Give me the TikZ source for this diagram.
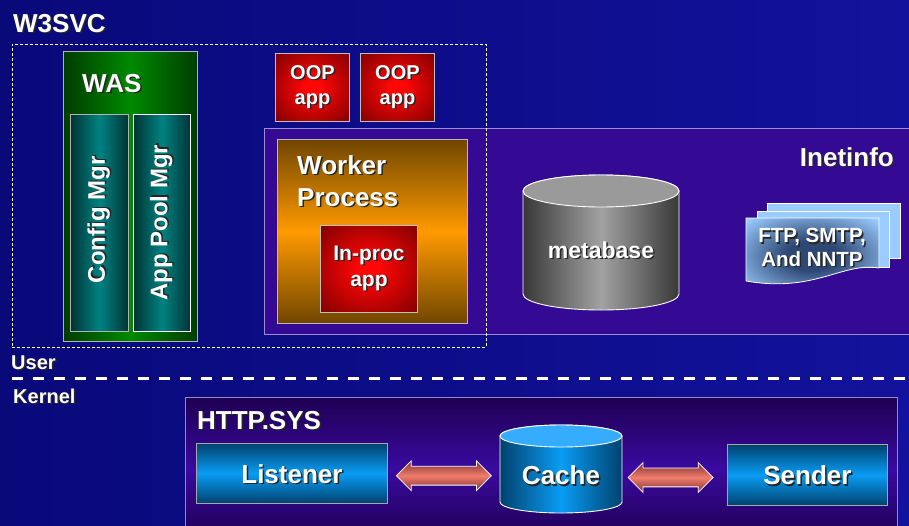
\documentclass[tikz,border=0pt]{standalone}
\usepackage{fontspec}
\setmainfont{Liberation Sans}
\usetikzlibrary{shapes.arrows,calc}
\definecolor{bgL}{HTML}{09097A}
\definecolor{bgR}{HTML}{12129C}
\definecolor{inetC}{HTML}{340A94}
\definecolor{inetB}{HTML}{9C8CD0}
\definecolor{httpD}{HTML}{1E0052}
\definecolor{httpM}{HTML}{3A0AA0}
\definecolor{grnD}{HTML}{003C00}
\definecolor{grnM}{HTML}{008A00}
\definecolor{tealD}{HTML}{003434}
\definecolor{tealM}{HTML}{008282}
\definecolor{redI}{HTML}{FF0606}
\definecolor{redO}{HTML}{760000}
\definecolor{orgD}{HTML}{704600}
\definecolor{orgM}{HTML}{FF9A00}
\definecolor{gryD}{HTML}{383838}
\definecolor{gryM}{HTML}{A2A2A2}
\definecolor{gryT}{HTML}{9A9A9A}
\definecolor{bluD}{HTML}{00426E}
\definecolor{bluM}{HTML}{0A9CF4}
\definecolor{bluT}{HTML}{36ACFF}
\definecolor{pageC}{HTML}{9ACCFF}
\definecolor{pageI}{HTML}{2E4874}
\definecolor{arrD}{HTML}{7A3434}
\definecolor{arrM}{HTML}{F27C6C}
\pgfdeclareradialshading{redglow}{\pgfpoint{0bp}{0bp}}{color(0bp)=(redI); color(5bp)=(redI); color(38bp)=(redO); color(50bp)=(redO)}
\pgfdeclareradialshading{pageglow}{\pgfpoint{0bp}{0bp}}{color(0bp)=(pageI); color(10bp)=(pageI); color(34bp)=(pageC); color(50bp)=(pageC)}
\newcommand\shd[1]{\leavevmode\rlap{\kern1.5pt\raisebox{-1.5pt}{\textcolor{black!85}{#1}}}#1}
\tikzset{
  txt/.style={text=white, inner sep=0pt, font=\bfseries\fontsize{25}{30}\selectfont},
  fs/.style={font=\bfseries\fontsize{#1}{30}\selectfont},
  boxframe/.style={draw=#1, line width=0.9pt, inner sep=0pt, anchor=north west},
  redbox/.style={boxframe=gray!50, shading=redglow},
  tealbar/.style={boxframe=gray!60, left color=tealD, right color=tealD, middle color=tealM},
  bluebox/.style={boxframe=gray!70, top color=bluD, bottom color=bluD, middle color=bluM},
  dblarrow/.style={shape=double arrow, draw=white!85, line width=0.8pt, inner xsep=0pt, inner ysep=9pt,
    double arrow head extend=5.5pt, top color=arrD, bottom color=arrD, middle color=arrM}
}
\begin{document}
\begin{tikzpicture}[x=1pt,y=-1pt]
\useasboundingbox (0,0) rectangle (909,525);
\clip (0,0) rectangle (909,525);
% background
\shade[left color=bgL, right color=bgR] (0,0) rectangle (909,525);

% W3SVC label
\node[txt, fs=26, anchor=base west] (w3lbl) at (13,32) {\shd{W3SVC}};

% WAS
\node[boxframe=gray!60, left color=grnD, right color=grnD, middle color=grnM,
      minimum width=134pt, minimum height=290pt] (was) at (63,51) {};
\node[txt, fs=26, anchor=base west] (waslbl) at (82,92) {\shd{WAS}};
\node[tealbar, minimum width=58pt, minimum height=217pt] (cfgbox) at (70,114) {};
\node[tealbar, boxframe=white!90, minimum width=57pt, minimum height=217pt] (apbox) at (133,114) {};
\node[txt, fs=24, rotate=90] (cfg) at ($(cfgbox.center)+(0,-3)$) {\shd{Config Mgr}};
\node[txt, fs=24, rotate=90] (apm) at (apbox.center) {\shd{App Pool Mgr}};

% OOP apps
\node[redbox, minimum width=74pt, minimum height=68pt] (oop1) at (275,53) {};
\node[redbox, minimum width=74pt, minimum height=68pt] (oop2) at (360,53) {};
\node[txt, align=center, font=\bfseries\fontsize{20}{25}\selectfont] (oop1t) at (oop1.center) {\shd{OOP}\\\shd{app}};
\node[txt, align=center, font=\bfseries\fontsize{20}{25}\selectfont] (oop2t) at (oop2.center) {\shd{OOP}\\\shd{app}};

% Inetinfo
\node[boxframe=inetB, fill=inetC, minimum width=660pt, minimum height=206pt] (inet) at (264,128) {};
\node[txt, fs=26, anchor=base east] (inetlbl) at (894,166) {\shd{Inetinfo}};

% Worker process
\node[boxframe=gray!55, top color=orgD, bottom color=orgD, middle color=orgM,
      minimum width=190pt, minimum height=184pt] (worker) at (277,139) {};
\node[txt, align=left, font=\bfseries\fontsize{26}{32}\selectfont, anchor=north west] (workerlbl) at (297,155) {\shd{Worker}\\\shd{Process}};
\node[redbox, minimum width=97pt, minimum height=87pt] (inproc) at (320,225) {};
\node[txt, align=center, font=\bfseries\fontsize{21}{26}\selectfont] (inproct) at (inproc.center) {\shd{In-proc}\\\shd{app}};

% metabase cylinder
\shadedraw[left color=gryD, right color=gryD, middle color=gryM, draw=white, line width=0.9pt]
  (523,191) -- (523,294) arc[start angle=180,end angle=360,x radius=78pt,y radius=16pt]
  -- (679,191) arc[start angle=0,end angle=180,x radius=78pt,y radius=16pt] -- cycle;
\filldraw[fill=gryT, draw=white, line width=0.9pt] (601,191) ellipse [x radius=78pt, y radius=16pt];
\node[txt, fs=23] (meta) at (601,251) {\shd{metabase}};

% FTP pages
\filldraw[fill=pageC, draw=white, line width=0.8pt] (767,203) rectangle (900,258);
\filldraw[fill=pageC, draw=white, line width=0.8pt] (757,211) rectangle (889,267);
\shadedraw[shading=pageglow, draw=white, line width=0.8pt]
  (746,218) -- (879,218) -- (879,268) .. controls (842,262) and (815,293) .. (746,281) -- cycle;
\node[txt, align=center, font=\bfseries\fontsize{20.5}{23.5}\selectfont] (ftp) at (812,248) {\shd{FTP, SMTP,}\\\shd{And NNTP}};

% W3SVC dashed frame (on top of Inetinfo)
\node[boxframe=white!85, line width=0.8pt, dash pattern=on 3pt off 2pt,
      minimum width=474pt, minimum height=303pt] (w3box) at (12,44) {};

% User / Kernel
\node[txt, fs=20, anchor=base west] (user) at (11,369) {\shd{User}};
\coordinate (sepL) at (12,378);
\coordinate (sepR) at (912,378);
\draw[white!92, line width=3pt, dash pattern=on 11pt off 10pt] (sepL) -- (sepR);
\node[txt, fs=20, anchor=base west] (kernel) at (13,403) {\shd{Kernel}};

% HTTP.SYS
\node[boxframe=inetB!80!gray, top color=httpD, bottom color=httpD, middle color=httpM,
      minimum width=712pt, minimum height=143pt] (http) at (185,397) {};
\node[txt, fs=26, anchor=base west] (httplbl) at (197,429) {\shd{HTTP.SYS}};
\node[bluebox, minimum width=191pt, minimum height=60pt] (listenerbox) at (196,443) {};
\node[txt, fs=26] (listener) at ($(listenerbox.center)+(0,1)$) {\shd{Listener}};
\node[bluebox, minimum width=160pt, minimum height=61pt] (senderbox) at (727,444) {};
\node[txt, fs=26] (sender) at ($(senderbox.center)+(0,1)$) {\shd{Sender}};

% Cache cylinder
\shadedraw[left color=bluD, right color=bluD, middle color=bluM, draw=white!85, line width=0.9pt]
  (500,436) -- (500,502) arc[start angle=180,end angle=360,x radius=61pt,y radius=11pt]
  -- (622,436) arc[start angle=0,end angle=180,x radius=61pt,y radius=11pt] -- cycle;
\filldraw[fill=bluT, draw=white!85, line width=0.9pt] (561,436) ellipse [x radius=61pt, y radius=11pt];
\node[txt, fs=26, minimum width=122pt, minimum height=30pt] (cache) at (561,476) {\shd{Cache}};

% arrows
\node[dblarrow, minimum height=95pt] (arr1) at ($(listenerbox.east)!0.5!(cache.west)+(0,1)$) {};
\node[dblarrow, minimum height=85pt] (arr2) at ($(cache.east)!0.5!(senderbox.west)+(-4,2)$) {};
\end{tikzpicture}
\end{document}
